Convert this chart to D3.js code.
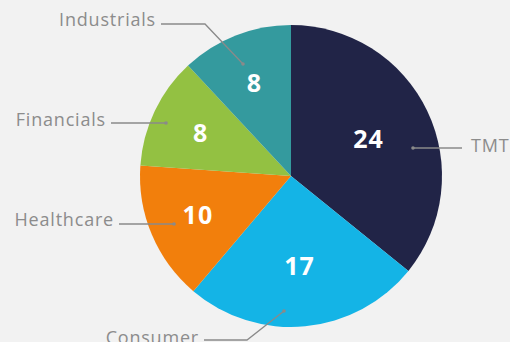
<!DOCTYPE html>
<html>
<head>
<meta charset="utf-8">
<script src="https://cdn.jsdelivr.net/npm/d3@7"></script>
<style>
  html, body { margin: 0; padding: 0; background: #f2f2f2; }
  svg { display: block; }
</style>
</head>
<body>
<svg id="chart" width="510" height="342"></svg>
<script>
// Sector breakdown
const sectors = ["TMT", "Consumer", "Healthcare", "Financials", "Industrials"];
const counts = [24, 17, 10, 8, 8];
const colors = ["#212447", "#14b4e6", "#f27f0c", "#93c142", "#349a9e"];

const W = 510, H = 342;
const cx = 291, cy = 176, R = 151;

const svg = d3.select("#chart");
svg.append("rect").attr("width", W).attr("height", H).attr("fill", "#f2f2f2");

const data = sectors.map((s, i) => ({ name: s, value: counts[i], color: colors[i] }));

const pie = d3.pie().value(d => d.value).sort(null);
const arcs = pie(data);
const arc = d3.arc().innerRadius(0).outerRadius(R);

const g = svg.append("g").attr("transform", `translate(${cx},${cy})`);

g.selectAll("path.slice")
  .data(arcs)
  .join("path")
  .attr("class", "slice")
  .attr("d", arc)
  .attr("fill", d => d.data.color);

// value labels inside slices
const labelR = { TMT: 86, Consumer: 90, Healthcare: 101, Financials: 100, Industrials: 100 };
g.selectAll("text.val")
  .data(arcs)
  .join("text")
  .attr("class", "val")
  .attr("transform", d => {
    const a = (d.startAngle + d.endAngle) / 2;
    const r = labelR[d.data.name];
    return `translate(${r * Math.sin(a)},${-r * Math.cos(a)})`;
  })
  .attr("text-anchor", "middle")
  .attr("dy", "0.36em")
  .attr("fill", "#ffffff")
  .style("font-family", "'Open Sans', sans-serif")
  .style("font-weight", 700)
  .style("font-size", "25px")
  .style("letter-spacing", "1px")
  .text(d => d.data.value);

// callouts: leader lines from each slice to its name
const callouts = {
  TMT:         { dot: [122, -28], elbow: null,       end: [171, -28], anchor: "start", tx: 180, ty: 152 - cy },
  Consumer:    { dot: [-7, 135],  elbow: [-44, 164], end: [-87, 164], anchor: "end",   tx: -92, ty: 344 - cy },
  Healthcare:  { dot: [-117, 48], elbow: null,       end: [-172, 48], anchor: "end",   tx: -177, ty: 226 - cy },
  Financials:  { dot: [-125, -53],elbow: null,       end: [-180, -53],anchor: "end",   tx: -185, ty: 126 - cy },
  Industrials: { dot: [-48, -112],elbow: [-86, -152],end: [-130, -152],anchor: "end",  tx: -135, ty: 26 - cy }
};

const line = d3.line();
arcs.forEach(d => {
  const c = callouts[d.data.name];
  const pts = [c.dot].concat(c.elbow ? [c.elbow] : [], [c.end]);
  g.append("path")
    .attr("d", line(pts))
    .attr("fill", "none")
    .attr("stroke", "#8a8a8a")
    .attr("stroke-width", 1.3);
  g.append("circle")
    .attr("cx", c.dot[0]).attr("cy", c.dot[1])
    .attr("r", 1.8)
    .attr("fill", "#8a8a8a");
  g.append("text")
    .attr("x", c.tx).attr("y", c.ty)
    .attr("text-anchor", c.anchor)
    .attr("fill", "#8c8c8c")
    .style("font-family", "'Open Sans', sans-serif")
    .style("font-weight", 400)
    .style("font-size", "18px")
    .style("letter-spacing", "0.8px")
    .text(d.data.name);
});
</script>
</body>
</html>
